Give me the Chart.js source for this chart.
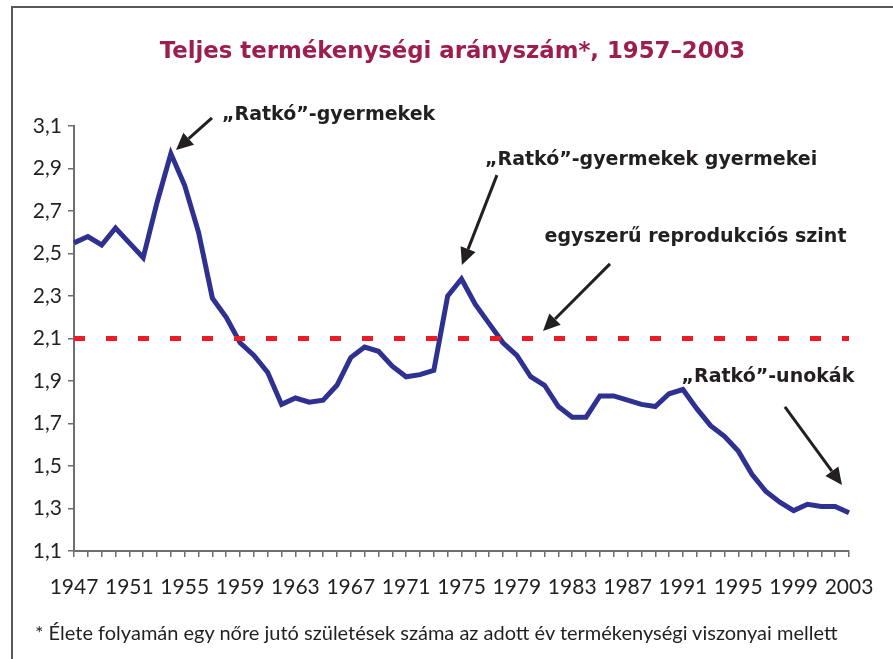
<!DOCTYPE html>
<html lang="hu">
<head>
<meta charset="utf-8">
<script src="https://cdn.jsdelivr.net/npm/chart.js@4.4.1/dist/chart.umd.min.js"></script>
<style>
  html, body { margin: 0; padding: 0; background: #fff; }
  #wrap { position: relative; width: 893px; height: 659px; overflow: hidden; font-family: Lato, "Open Sans", sans-serif; }
  #frame { position: absolute; left: 11px; top: 6px; right: 0; bottom: 0; border-top: 2px solid #58595b; border-left: 2px solid #58595b; }
  #title { position: absolute; left: 0; width: 905px; top: 37px; text-align: center; font-family: "DejaVu Sans", sans-serif; font-weight: 700; font-size: 22.8px; color: #9d1d4f; }
  #note { position: absolute; left: 35px; top: 620px; font-size: 20px; color: #231f20; }
  canvas { position: absolute; left: 0; top: 0; }
</style>
</head>
<body>
<div id="wrap">
  <div id="frame"></div>
  <canvas id="tfrChart" width="893" height="659"></canvas>
  <div id="title">Teljes termékenységi arányszám*, 1957–2003</div>
  <div id="note">* Élete folyamán egy nőre jutó születések száma az adott év termékenységi viszonyai mellett</div>
</div>
<script>
// years on the x axis
const years = [
  1947, 1948, 1949, 1950, 1951, 1952, 1953, 1954, 1955, 1956,
  1957, 1958, 1959, 1960, 1961, 1962, 1963, 1964, 1965, 1966,
  1967, 1968, 1969, 1970, 1971, 1972, 1973, 1974, 1975, 1976,
  1977, 1978, 1979, 1980, 1981, 1982, 1983, 1984, 1985, 1986,
  1987, 1988, 1989, 1990, 1991, 1992, 1993, 1994, 1995, 1996,
  1997, 1998, 1999, 2000, 2001, 2002, 2003
];

// total fertility rate
const tfr = [
  2.55, 2.58, 2.54, 2.62, 2.55, 2.48, 2.74, 2.97, 2.82, 2.60,
  2.29, 2.20, 2.08, 2.02, 1.94, 1.79, 1.82, 1.80, 1.81, 1.88,
  2.01, 2.06, 2.04, 1.97, 1.92, 1.93, 1.95, 2.30, 2.38, 2.26,
  2.17, 2.08, 2.02, 1.92, 1.88, 1.78, 1.73, 1.73, 1.83, 1.83,
  1.81, 1.79, 1.78, 1.84, 1.86, 1.77, 1.69, 1.64, 1.57, 1.46,
  1.38, 1.33, 1.29, 1.32, 1.31, 1.31, 1.28
];

// replacement level
const replacementLevel = 2.1;

const yTicks = [1.1, 1.3, 1.5, 1.7, 1.9, 2.1, 2.3, 2.5, 2.7, 2.9, 3.1];
const xLabelStep = 4;

// annotation texts and arrows, in (year, value) units
const notes = [
  { text: "„Ratkó”-gyermekek", year: 1957.7, value: 3.152 },
  { text: "„Ratkó”-gyermekek gyermekei", year: 1976.7, value: 2.94 },
  { text: "egyszerű reprodukciós szint", year: 1981.0, value: 2.578 },
  { text: "„Ratkó”-unokák", year: 1990.9, value: 1.919 }
];
const arrows = [
  { from: [1956.97, 3.138], to: [1954.37, 2.987] },
  { from: [1977.56, 2.869], to: [1975.03, 2.446] },
  { from: [1985.73, 2.451], to: [1980.89, 2.135] },
  { from: [1998.37, 1.778], to: [2002.49, 1.411] }
];

const ink = "#231f20";
const axisGrey = "#6d6e71";

const notesPlugin = {
  id: "notes",
  afterDatasetsDraw(chart) {
    const { ctx, scales } = chart;
    const px = y => scales.x.getPixelForValue(y - years[0]);
    const py = v => scales.y.getPixelForValue(v);
    ctx.save();
    ctx.fillStyle = ink;
    ctx.strokeStyle = ink;
    ctx.lineWidth = 3;
    arrows.forEach(a => {
      const x0 = px(a.from[0]), y0 = py(a.from[1]);
      const x1 = px(a.to[0]), y1 = py(a.to[1]);
      const ang = Math.atan2(y1 - y0, x1 - x0);
      const head = 17, half = 8;
      const bx = x1 - head * Math.cos(ang), by = y1 - head * Math.sin(ang);
      ctx.beginPath();
      ctx.moveTo(x0, y0);
      ctx.lineTo(bx, by);
      ctx.stroke();
      ctx.beginPath();
      ctx.moveTo(x1, y1);
      ctx.lineTo(bx + half * Math.sin(ang), by - half * Math.cos(ang));
      ctx.lineTo(bx - half * Math.sin(ang), by + half * Math.cos(ang));
      ctx.closePath();
      ctx.fill();
    });
    ctx.font = "bold 19px 'DejaVu Sans'";
    ctx.textAlign = "left";
    ctx.textBaseline = "middle";
    notes.forEach(n => ctx.fillText(n.text, px(n.year), py(n.value)));
    ctx.restore();
  }
};

new Chart(document.getElementById("tfrChart"), {
  type: "line",
  data: {
    labels: years,
    datasets: [
      {
        data: [
          { x: years[0], y: replacementLevel },
          { x: years[years.length - 1], y: replacementLevel }
        ],
        borderColor: "#ed1c24",
        borderWidth: 5,
        borderDash: [11, 21],
        borderCapStyle: "butt",
        pointRadius: 0,
        order: 0
      },
      {
        data: tfr,
        borderColor: "#2e3192",
        borderWidth: 5,
        borderJoinStyle: "miter",
        tension: 0,
        pointRadius: 0,
        order: 1
      }
    ]
  },
  options: {
    responsive: false,
    animation: false,
    events: [],
    layout: { padding: { top: 126, left: 14, right: 44, bottom: 58 } },
    plugins: {
      legend: { display: false },
      tooltip: { enabled: false },
      title: { display: false }
    },
    scales: {
      x: {
        type: "category",
        offset: false,
        grid: { display: true, drawOnChartArea: false, drawTicks: true, tickLength: 6, color: axisGrey, lineWidth: 1.5, offset: false },
        border: { display: true, color: axisGrey, width: 2 },
        ticks: {
          autoSkip: false,
          maxRotation: 0,
          padding: 18,
          color: ink,
          font: { family: "Lato", size: 21 },
          callback: (v, i) => (i % xLabelStep === 0 ? String(years[i]) : "")
        },
        afterFit: s => { s.height = 50; }
      },
      y: {
        min: 1.1,
        max: 3.1,
        grid: { display: true, drawOnChartArea: false, drawTicks: true, tickLength: 6, color: axisGrey, lineWidth: 1.5 },
        border: { display: true, color: axisGrey, width: 2 },
        ticks: {
          padding: 6,
          color: ink,
          font: { family: "Lato", size: 21 },
          callback: v => v.toFixed(1).replace(".", ",")
        },
        afterBuildTicks: s => { s.ticks = yTicks.map(v => ({ value: v })); },
        afterFit: s => { s.width = 60; }
      }
    }
  },
  plugins: [notesPlugin]
});
</script>
</body>
</html>
